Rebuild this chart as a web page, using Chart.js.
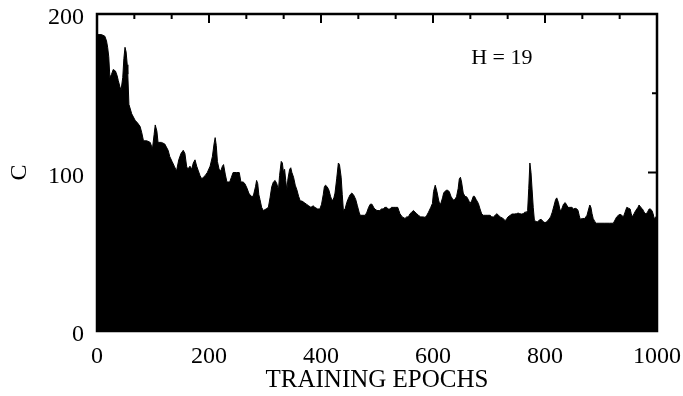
<!DOCTYPE html>
<html>
<head>
<meta charset="utf-8">
<script src="https://cdn.jsdelivr.net/npm/chart.js@4/dist/chart.umd.min.js"></script>
<style>
  html, body { margin: 0; padding: 0; background: #fff; }
  #wrap { width: 683px; height: 396px; }
</style>
</head>
<body>
<div id="wrap"><canvas id="c" width="683" height="396"></canvas></div>
<script>
// ---- data ----
const epochs = [0,8,14,17,19,21,23,26,29,33,36,38,41,43,46,48,50,52,54,55,57,62,68,73,77,80,83,89,95,99,102,104,107,109,115,121,127,130,134,138,142,146,150,154,157,160,162,166,169,172,175,178,181,184,187,190,193,197,202,206,209,211,213,215,218,221,224,226,229,232,237,240,243,249,
254,257,261,264,268,271,275,279,283,285,287,289,291,294,297,302,306,309,312,315,318,321,324,326,329,331,333,335,337,339,341,344,346,348,351,354,357,360,363,366,370,374,378,382,386,389,394,398,401,404,406,408,411,414,417,420,423,425,428,431,433,436,438,440,443,446,448,452,455,458,462,465,468,470,475,479,482,485,488,491,494,496,
500,505,508,511,514,517,520,523,526,529,533,537,539,541,545,550,553,556,559,562,565,568,571,574,578,582,586,589,592,596,599,601,604,607,610,612,614,617,619,621,625,629,632,636,639,642,645,647,649,651,654,657,660,663,666,669,672,674,677,681,684,687,690,693,698,702,705,708,711,714,717,720,725,729,732,734,738,741,745,
749,752,755,758,761,764,767,769,771,773,775,777,779,781,784,787,790,793,797,800,803,806,810,813,816,819,821,824,827,830,833,836,838,841,844,848,851,854,857,859,861,863,867,871,875,878,880,882,884,886,889,892,900,907,915,922,925,928,931,934,937,940,943,946,949,952,954,956,959,962,964,966,968,971,974,977,980,983,986,988,991,993,995,998,1000];
const cost = [187,187,186,183,179,173,160,162,165,164,161,158,154,152,160,172,179,176,168,162,143,137,133,131,129,125,120,120,119,115,124,130,126,119,119,118,114,110,107,104,101,108,112,114,112,104,102,104,102,106,108,104,101,98,96,97,98,100,104,110,118,122,117,107,102,101,104,105,99,94,94,97,100,100,
100,94,94,93,90,87,85,85,91,95,93,86,83,78,76,77,78,84,91,94,95,93,89,98,107,106,100,102,95,89,96,102,103,100,97,92,89,85,82,82,81,80,79,78,79,78,77,77,80,86,91,92,91,89,85,82,84,87,96,106,105,97,86,76,77,81,83,86,87,86,83,79,75,73,73,73,75,78,80,80,78,77,
76,76,77,77,78,78,77,77,78,78,78,78,76,74,72,71,72,72,74,75,76,75,74,73,72,72,71.7,73,75,78,80.5,88,92,88,82.6,80,80.5,84,87,88,89,88,85,82.6,83,84.7,90,96,97,94,87,85,84.7,83,80.5,82,85,85,83,80.5,77,73.8,73,73,73,73,72,72,73,74,73,72,71,69.6,71,72,73,73.8,73.8,
74,74.4,74,73.8,74,75,75,76,90,106,100,89,78,70,69,69,70,70.5,69,68.3,69,70,72,75,79,83,84,81,76,77,80,81,80,78,78,78,77,77.4,77,76,73,70.5,71,71,73,77,79.5,78,74,71,69,68,68,68,68,68,70,72,73,73.6,73,72,75,78,77.5,77,74,72,74,76,77,78,79.5,78,77,75,73.8,75,77,77,76,74,71,72,70];

const xTickValues = [0, 200, 400, 600, 800, 1000];
const yTickValues = [0, 100, 200];
const topTicks = [66.67, 133.33, 200, 266.67, 333.33, 400, 466.67, 533.33, 600, 666.67, 733.33, 800, 866.67, 933.33];
const topMajor = [200, 400, 600, 800];
const rightTicks = [50, 100, 150];
const rightMajor = [100];
const xTitle = 'TRAINING EPOCHS';
const yTitle = 'C';
const note = 'H = 19';
const notePos = { x: 723, y: 172 };

const points = epochs.map((e, i) => ({ x: e, y: cost[i] }));
const FONT = '"Liberation Serif", "Times New Roman", serif';

const frame = {
  id: 'frame',
  afterDatasetsDraw(chart) {
    const { ctx, chartArea: { left, right, top, bottom }, scales: { x, y } } = chart;
    ctx.save();
    ctx.strokeStyle = '#000';
    ctx.lineWidth = 2.5;
    ctx.strokeRect(left, top, right - left, bottom - top);
    ctx.lineWidth = 2;
    ctx.beginPath();
    topTicks.forEach(v => {
      const px = x.getPixelForValue(v);
      const len = topMajor.some(m => Math.abs(m - v) < 1) ? 9 : 5;
      ctx.moveTo(px, top); ctx.lineTo(px, top + len);
    });
    rightTicks.forEach(v => {
      const py = y.getPixelForValue(v);
      const len = rightMajor.includes(v) ? 9 : 5;
      ctx.moveTo(right, py); ctx.lineTo(right - len, py);
    });
    ctx.stroke();
    ctx.fillStyle = '#000';
    ctx.font = '22px ' + FONT;
    ctx.textAlign = 'center';
    ctx.textBaseline = 'middle';
    ctx.fillText(note, x.getPixelForValue(notePos.x), y.getPixelForValue(notePos.y));
    ctx.restore();
  }
};

function zeroPad(s) { s.paddingLeft = 0; s.paddingRight = 0; s.paddingTop = 0; s.paddingBottom = 0; }

new Chart(document.getElementById('c'), {
  type: 'line',
  data: {
    datasets: [{
      data: points,
      borderColor: '#000',
      backgroundColor: '#000',
      borderWidth: 1,
      pointRadius: 0,
      tension: 0,
      fill: 'origin'
    }]
  },
  options: {
    responsive: false,
    animation: false,
    events: [],
    layout: { padding: { left: 0, right: 26, top: 14, bottom: 0 } },
    plugins: { legend: { display: false }, tooltip: { enabled: false } },
    scales: {
      x: {
        type: 'linear',
        min: 0, max: 1000,
        afterFit: s => { s.height = 65; zeroPad(s); },
        afterBuildTicks: s => { s.ticks = xTickValues.map(v => ({ value: v })); },
        grid: { display: false, drawTicks: false },
        border: { display: false },
        ticks: { color: '#000', padding: 14, maxRotation: 0, autoSkip: false,
                 callback: v => String(v),
                 font: { family: FONT, size: 24, lineHeight: 1 } },
        title: { display: true, text: xTitle, color: '#000',
                 font: { family: FONT, size: 25, lineHeight: 1.2 },
                 padding: { top: 0, bottom: 1 } }
      },
      y: {
        type: 'linear',
        min: 0, max: 200,
        afterFit: s => { s.width = 97; zeroPad(s); },
        afterBuildTicks: s => { s.ticks = yTickValues.map(v => ({ value: v })); },
        grid: { display: false, drawTicks: false },
        border: { display: false },
        ticks: { color: '#000', padding: 13, labelOffset: 4,
                 callback: v => String(v),
                 font: { family: FONT, size: 24, lineHeight: 1 } },
        title: { display: true, text: yTitle, color: '#000',
                 font: { family: FONT, size: 24, lineHeight: 1.2 },
                 padding: { top: 5, bottom: 0 } }
      }
    }
  },
  plugins: [frame]
});
</script>
</body>
</html>
